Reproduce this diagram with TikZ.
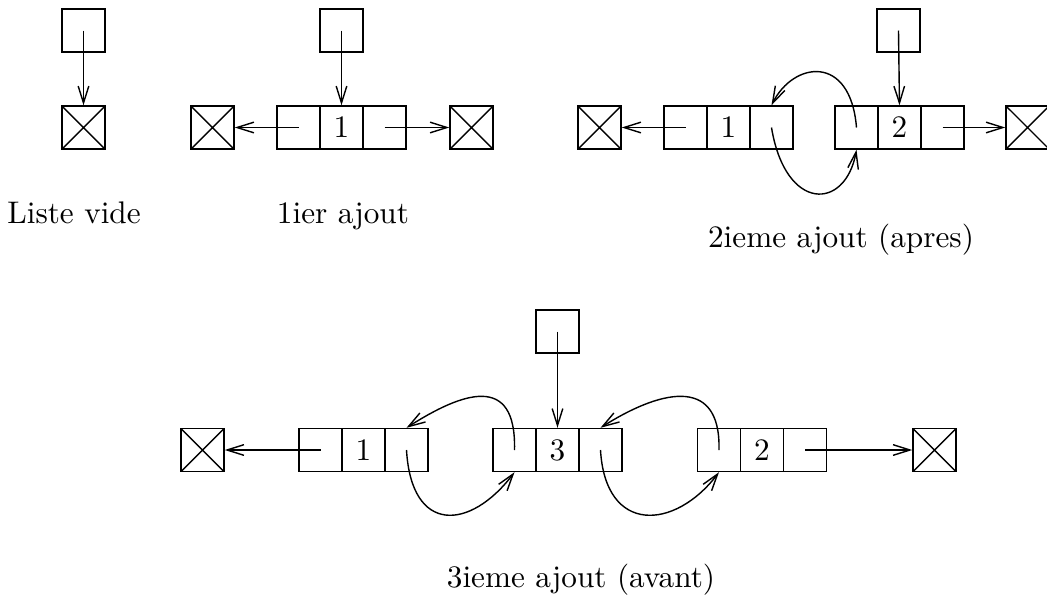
\documentclass[tikz,border=0pt]{standalone}
\usetikzlibrary{arrows.meta}
\begin{document}
\begin{tikzpicture}[x=0.32pt, y=-0.32pt, line width=0.45pt,
  cell/.style={draw, rectangle, minimum width=13.76pt, minimum height=13.76pt, inner sep=0pt},
  nullbox/.style={cell, path picture={
      \draw (path picture bounding box.north west) -- (path picture bounding box.south east)
            (path picture bounding box.north east) -- (path picture bounding box.south west);}},
  arr/.style={-{Straight Barb[length=5.4pt,width=3.4pt]}},
  caption/.style={anchor=base, inner sep=0pt}]
\useasboundingbox (0,0) rectangle (1047,599);

% --- empty list
\node[cell] (pA) at (83.5,30.5) {};
\node[nullbox] (zA) at (83.5,127.5) {};
\draw[arr] (pA.center) -- (zA.north);
\node[caption] (tA) at (74,223) {Liste vide};

% --- first insertion
\node[cell] (pB) at (341.5,30.5) {};
\node[nullbox] (zB1) at (212.5,127.5) {};
\node[cell] (b1) at (298.5,127.5) {};
\node[cell] (b2) at (341.5,127.5) {1};
\node[cell] (b3) at (384.5,127.5) {};
\node[nullbox] (zB2) at (471.5,127.5) {};
\draw[arr] (pB.center) -- (b2.north);
\draw[arr] (b1.center) -- (zB1.east);
\draw[arr] (b3.center) -- (zB2.west);
\node[caption] (tB) at (343,223) {1ier ajout};

% --- second insertion (after)
\node[cell] (pC) at (898.5,30.5) {};
\node[nullbox] (zC1) at (599.5,127.5) {};
\node[cell] (c1) at (685.5,127.5) {};
\node[cell] (c2) at (728.5,127.5) {1};
\node[cell] (c3) at (771.5,127.5) {};
\node[cell] (d1) at (856.5,127.5) {};
\node[cell] (d2) at (899.5,127.5) {2};
\node[cell] (d3) at (942.5,127.5) {};
\node[nullbox] (zC2) at (1027.5,127.5) {};
\draw[arr] (pC.center) -- (d2.north);
\draw[arr] (c1.center) -- (zC1.east);
\draw[arr] (d3.center) -- (zC2.west);
\draw[arr] (c3.center) .. controls +(14,85) and +(-11,61) .. (d1.south);
\draw[arr] (d1.center) .. controls +(-6,-74) and +(22,-44) .. (c3.north);
\node[caption] (tC) at (841,247) {2ieme ajout (apres)};

% --- third insertion (before)
\node[cell] (pD) at (557.5,331.5) {};
\node[nullbox] (zD1) at (202.5,450) {};
\node[cell] (e1) at (320.5,450) {};
\node[cell] (e2) at (363.5,450) {1};
\node[cell] (e3) at (406.5,450) {};
\node[cell] (f1) at (514.5,450) {};
\node[cell] (f2) at (557.5,450) {3};
\node[cell] (f3) at (600.5,450) {};
\node[cell] (g1) at (719,450) {};
\node[cell] (g2) at (762,450) {2};
\node[cell] (g3) at (805,450) {};
\node[nullbox] (zD2) at (934.5,450) {};
\draw[arr] (pD.center) -- (f2.north);
\draw[arr] (e1.center) -- (zD1.east);
\draw[arr] (g3.center) -- (zD2.west);
\draw[arr] (e3.center) .. controls +(5,85) and +(-44,58) .. (f1.south);
\draw[arr] (f1.center) .. controls +(2,-78) and +(55,-35) .. (e3.north);
\draw[arr] (f3.center) .. controls +(5,85) and +(-44,58) .. (g1.south);
\draw[arr] (g1.center) .. controls +(2,-78) and +(55,-35) .. (f3.north);
\node[caption] (tD) at (581,587) {3ieme ajout (avant)};
\end{tikzpicture}
\end{document}
